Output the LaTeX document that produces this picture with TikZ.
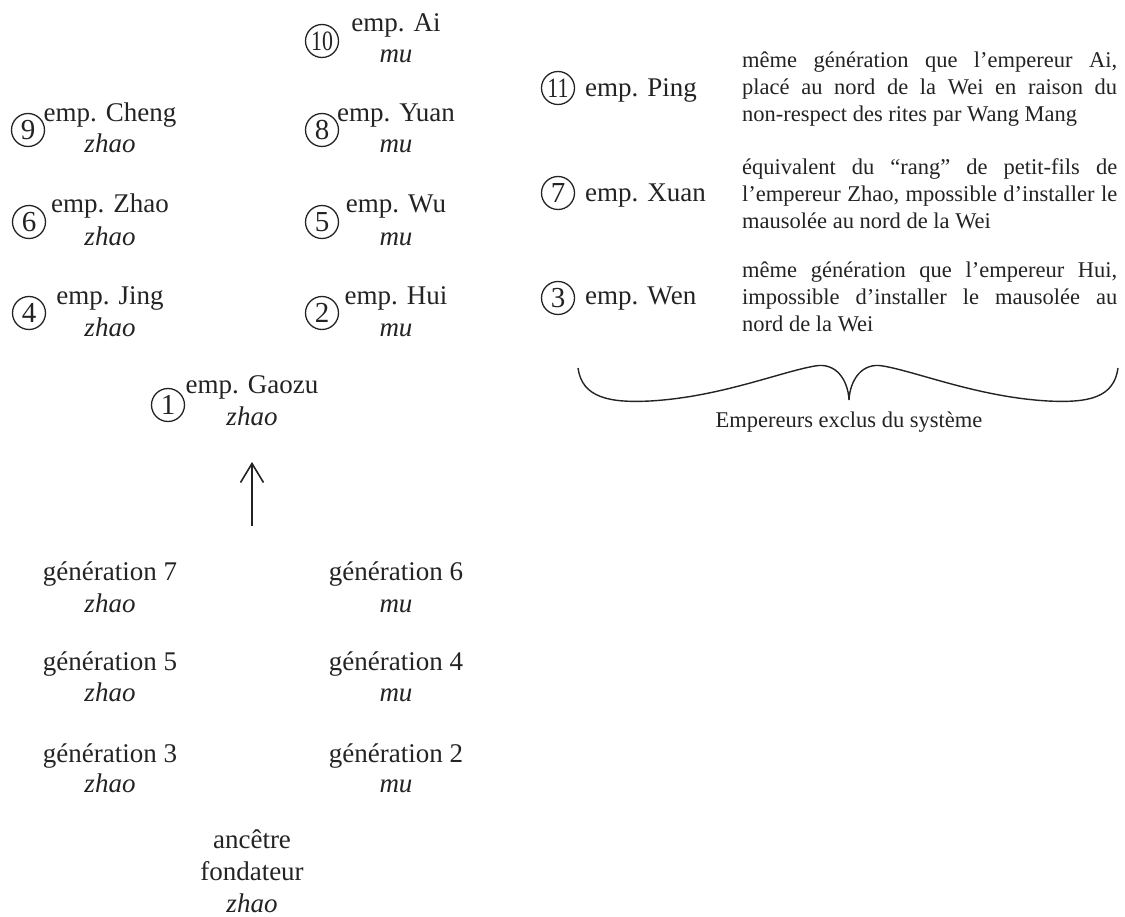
\documentclass[tikz,border=0pt]{standalone}
\usepackage{fontspec}
\setmainfont{Liberation Serif}
\usetikzlibrary{arrows.meta}
\definecolor{ink}{RGB}{35,35,35}
\begin{document}
\begin{tikzpicture}[x=1pt,y=-1pt,
  every node/.style={text=ink},
  num/.style={circle, draw=ink, line width=1.3pt, minimum size=33pt, inner sep=0pt,
    font=\fontsize{29}{29}\selectfont},
  num2/.style={num, font=\fontsize{28}{28}\selectfont},
  emp/.style={anchor=base, inner sep=0pt, font=\fontsize{27}{32}\selectfont},
  rite/.style={anchor=base, inner sep=0pt, font=\fontsize{27}{32}\selectfont\itshape},
  lbl/.style={anchor=base west, inner sep=0pt, font=\fontsize{27}{32}\selectfont},
  para/.style={anchor=base west, inner sep=0pt},
  note/.style={anchor=base, inner sep=0pt, font=\fontsize{22.5}{27}\selectfont},
  arr/.style={draw=ink, line width=1.6pt, -{Straight Barb[length=19pt,width=23pt,line width=1.6pt]}},
  brace/.style={draw=ink, line width=1.4pt}
]
\useasboundingbox (0,0) rectangle (1125,917);
\newcommand{\ptext}[1]{\parbox[t]{375pt}{\fontsize{22.5}{27}\selectfont\hyphenpenalty=10000\exhyphenpenalty=10000 #1}}
\newcommand{\narrow}[1]{\scalebox{0.78}[1]{#1}}

% ---------- left: emperors ----------
\node[num2] (c10) at (322,41) {\narrow{10}};
\node[emp]  (ai)  at (396,32) {emp. Ai};
\node[rite] (aim) at (396,63) {mu};

\node[num]  (c9)  at (28,130) {9};
\node[emp]  (cheng)  at (110,122) {emp. Cheng};
\node[rite] (chengz) at (110,153) {zhao};
\node[num]  (c8)  at (322,130) {8};
\node[emp]  (yuan)  at (396,122) {emp. Yuan};
\node[rite] (yuanm) at (396,153) {mu};

\node[num]  (c6)  at (29,222) {6};
\node[emp]  (zhao)  at (110,213) {emp. Zhao};
\node[rite] (zhaoz) at (110,246) {zhao};
\node[num]  (c5)  at (322,222) {5};
\node[emp]  (wu)  at (396,213) {emp. Wu};
\node[rite] (wum) at (396,246) {mu};

\node[num]  (c4)  at (29,313) {4};
\node[emp]  (jing)  at (110,305) {emp. Jing};
\node[rite] (jingz) at (110,337) {zhao};
\node[num]  (c2)  at (322,313) {2};
\node[emp]  (hui)  at (396,305) {emp. Hui};
\node[rite] (huim) at (396,337) {mu};

\node[num]  (c1)  at (168,405) {1};
\node[emp]  (gaozu)  at (252,393) {emp. Gaozu};
\node[rite] (gaozuz) at (252,425) {zhao};

% ---------- arrow ----------
\coordinate (arrS) at (252,526);
\coordinate (arrE) at (252,462);
\draw[arr] (arrS) -- (arrE);

% ---------- generations ----------
\node[emp]  (g7)  at (110,580) {génération 7};
\node[rite] (g7z) at (110,612) {zhao};
\node[emp]  (g6)  at (396,580) {génération 6};
\node[rite] (g6m) at (396,612) {mu};
\node[emp]  (g5)  at (110,670) {génération 5};
\node[rite] (g5z) at (110,701) {zhao};
\node[emp]  (g4)  at (396,670) {génération 4};
\node[rite] (g4m) at (396,701) {mu};
\node[emp]  (g3)  at (110,762) {génération 3};
\node[rite] (g3z) at (110,792) {zhao};
\node[emp]  (g2)  at (396,762) {génération 2};
\node[rite] (g2m) at (396,792) {mu};
\node[emp]  (anc)  at (252,848) {ancêtre};
\node[emp]  (fond) at (252,880) {fondateur};
\node[rite] (ancz) at (252,912) {zhao};

% ---------- right: excluded emperors ----------
\node[num2] (c11) at (558,88) {\narrow{11}};
\node[lbl]  (ping) at (585,97) {emp. Ping};
\node[para] (p11) at (742,68) {\ptext{même génération que l’empereur Ai,\linebreak placé au nord de la Wei en raison du\linebreak non-respect des rites par Wang Mang}};

\node[num]  (c7) at (558,193) {7};
\node[lbl]  (xuan) at (585,202) {emp. Xuan};
\node[para] (p7) at (742,175) {\ptext{équivalent du “rang” de petit-fils de\linebreak l’empereur Zhao, mpossible d’installer le\linebreak mausolée au nord de la Wei}};

\node[num]  (c3) at (558,298) {3};
\node[lbl]  (wen) at (585,305) {emp. Wen};
\node[para] (p3) at (742,278) {\ptext{même génération que l’empereur Hui,\linebreak impossible d’installer le mausolée au\linebreak nord de la Wei}};

% ---------- brace ----------
\draw[brace] (578,368) .. controls (582,398) and (610,403) .. (650,401)
  .. controls (720,397) and (780,372) .. (815,366)
  .. controls (836,362) and (848,380) .. (849,400)
  .. controls (850,380) and (862,362) .. (883,366)
  .. controls (918,372) and (978,397) .. (1048,401)
  .. controls (1088,403) and (1114,398) .. (1118,368);
\node[note] (excl) at (849,427) {Empereurs exclus du système};
\end{tikzpicture}
\end{document}
